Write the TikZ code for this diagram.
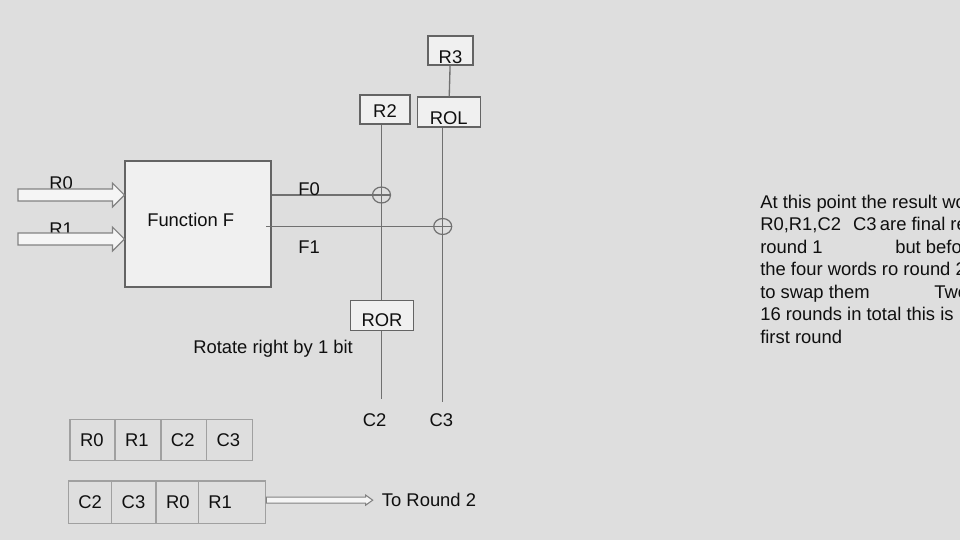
\documentclass[tikz,border=0pt]{standalone}
\usepackage{fontspec}
\setmainfont{Liberation Sans}
\usetikzlibrary{calc,shapes.geometric}
\definecolor{bgc}{RGB}{222,222,222}
\definecolor{boxfill}{RGB}{240,240,240}
\definecolor{boxline}{RGB}{100,100,100}
\definecolor{wire}{RGB}{112,112,112}
\definecolor{cellline}{RGB}{160,160,160}
\definecolor{arrowline}{RGB}{130,130,130}
\definecolor{arrowfill}{RGB}{245,245,245}
\definecolor{ink}{RGB}{15,15,15}
\newcommand\fs{\fontsize{13.8pt}{16.9pt}\selectfont}
\begin{document}
\begin{tikzpicture}[x=0.75pt,y=-0.75pt,
  bx/.style={rectangle, draw=boxline, fill=boxfill, line width=0.9pt, inner sep=0pt, font=\fs, text=ink},
  ln/.style={draw=wire, line width=1pt},
  tx/.style={font=\fs, text=ink, inner sep=0pt},
  cell/.style={rectangle, draw=cellline, line width=0.9pt, font=\fs, text=ink, inner ysep=0pt, inner xsep=7.5pt, align=left},
  xo/.style={ellipse, draw=wire, line width=0.9pt, minimum width=13.5pt, minimum height=12pt, inner sep=0pt},
  harrow/.style={draw=arrowline, fill=arrowfill, line width=0.9pt, line join=miter}]
\useasboundingbox (0,0) rectangle (960,540);
\fill[bgc] (0,0) rectangle (960,540);
\clip (0,0) rectangle (960,540);

% Function box and inputs
\node[bx, minimum width=109.5pt, minimum height=94.5pt] (F) at (198,224) {};
\node[tx, anchor=base west] (Ft) at (147,226) {Function F};
\node[tx, anchor=base west] (R0l) at (49,189) {R0};
\node[tx, anchor=base west] (R1l) at (49,235) {R1};
\coordinate (r0s) at (18,195);
\coordinate (r1s) at (18,239);
\draw[harrow] ($(r0s)+(0,-6)$) -- ($(F.west|-r0s)+(-12,-6)$) -- ($(F.west|-r0s)+(-12,-12)$) -- (F.west|-r0s)
  -- ($(F.west|-r0s)+(-12,12)$) -- ($(F.west|-r0s)+(-12,6)$) -- ($(r0s)+(0,6)$) -- cycle;
\draw[harrow] ($(r1s)+(0,-6)$) -- ($(F.west|-r1s)+(-12,-6)$) -- ($(F.west|-r1s)+(-12,-12)$) -- (F.west|-r1s)
  -- ($(F.west|-r1s)+(-12,12)$) -- ($(F.west|-r1s)+(-12,6)$) -- ($(r1s)+(0,6)$) -- cycle;

% XOR points
\node[xo] (X0) at (381.5,195) {};
\node[xo] (X1) at (442.7,226.5) {};

% boxes
\node[bx, minimum width=37.5pt, minimum height=21.75pt, text height=11.25pt, text depth=0pt] (R2) at (385,109.5) {R2};
\node[bx, minimum width=33.75pt, minimum height=21.75pt, text height=18.75pt, text depth=0pt] (R3) at (450.5,50.5) {R3};
\node[bx, minimum width=47.25pt, minimum height=22.5pt, text height=18pt, text depth=0pt] (ROL) at (448.8,112) {ROL};
\node[bx, minimum width=47.5pt, minimum height=22.5pt, text height=15.5pt, text depth=0pt] (ROR) at (382,315.7) {ROR};

% F outputs
\draw[ln] (F.east |- X0) -- (X0.east);
\coordinate (f1s) at (266,226.5);
\draw[ln] (f1s) -- (X1.east);
\node[tx, anchor=base west] (F0l) at (298,195) {F0};
\node[tx, anchor=base west] (F1l) at (298,253) {F1};

% vertical wires
\draw[ln] (X0 |- R2.south) -- (X0 |- ROR.north);
\coordinate (c2e) at (381.5,399);
\draw[ln] (X0 |- ROR.south) -- (c2e);
\draw[ln] (R3) -- (ROL);
\coordinate (c3e) at (442.7,402);
\draw[ln] (X1 |- ROL.south) -- (c3e);
\node[tx, anchor=base] (C2) at (374.7,426.7) {C2};
\node[tx, anchor=base] (C3) at (441.3,426.7) {C3};
\node[tx, anchor=base west] (rot) at (193,353) {Rotate right by 1 bit};

% tables
\node[cell, text width=18.75pt, minimum height=31.3pt] (T11) at (92.5,440) {R0};
\node[cell, text width=19.5pt, minimum height=31.3pt] (T12) at (138,440) {R1};
\node[cell, text width=19.3pt, minimum height=31.3pt] (T13) at (183.85,440) {C2};
\node[cell, text width=19.5pt, minimum height=31.3pt] (T14) at (229.7,440) {C3};
\node[cell, text width=17.55pt, minimum height=31.7pt] (T21) at (90,502.2) {C2};
\node[cell, text width=18.2pt, minimum height=31.7pt] (T22) at (133.85,502.2) {C3};
\node[cell, text width=16.7pt, minimum height=31.7pt] (T23) at (177.15,502.2) {R0};
\node[cell, text width=35.55pt, minimum height=31.7pt] (T24) at (232,502.2) {R1};

% to round 2
\node[tx, anchor=base west] (TR) at (381.7,506.7) {To Round 2};
\coordinate (a2t) at ($(TR.west)+(-9,0)$);
\draw[harrow, line width=0.8pt] ($(T24.east|-a2t)+(0,-3)$) -- ($(a2t)+(-7,-3)$) -- ($(a2t)+(-7,-5)$) -- (a2t)
  -- ($(a2t)+(-7,5)$) -- ($(a2t)+(-7,3)$) -- ($(T24.east|-a2t)+(0,3)$) -- cycle;

% note text (cut off at the right edge as in the original)
\node[tx, anchor=base west] (n1) at (760,208) {At this point the result words};
\node[tx, anchor=base west] (n2) at (760,230.5) {R0,R1,C2\hspace{9pt}C3\hspace{2.5pt}are final results};
\node[tx, anchor=base west] (n3a) at (760,253) {round 1};
\node[tx, anchor=base west] (n3b) at (895,253) {but before};
\node[tx, anchor=base west] (n4) at (760,275.5) {the four words ro round 2};
\node[tx, anchor=base west] (n5a) at (760,298) {to swap them};
\node[tx, anchor=base west] (n5b) at (934,298) {Two};
\node[tx, anchor=base west] (n6) at (760,320.5) {16 rounds in total this is};
\node[tx, anchor=base west] (n7) at (760,343) {first round};
\end{tikzpicture}
\end{document}
